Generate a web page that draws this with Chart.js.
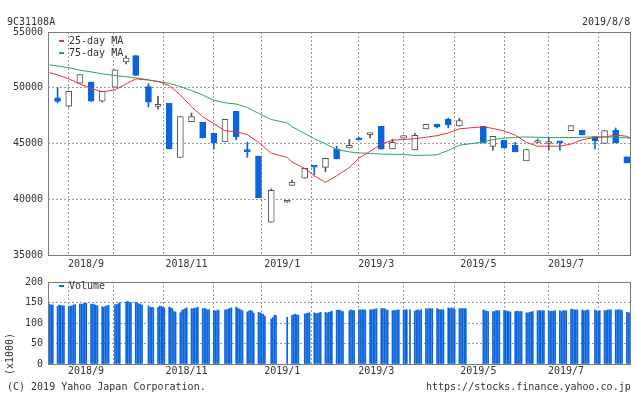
<!DOCTYPE html>
<html>
<head>
<meta charset="utf-8">
<script src="https://cdn.jsdelivr.net/npm/chart.js@4.4.1/dist/chart.umd.min.js"></script>
<style>
  body { margin: 0; background: #fff; }
  #wrap { position: relative; width: 634px; height: 394px; overflow: hidden;
          font-family: "DejaVu Sans Mono", monospace; font-size: 10px; color: #333; }
  canvas { position: absolute; left: 0; }
  #price { top: 0; }
  #vol { top: 271px; }
  .t { position: absolute; white-space: pre; line-height: 12px; }
  .k { position: absolute; width: 5px; height: 2px; }
  #unit { left: -15px; top: 348px; width: 50px; text-align: center; transform: rotate(-90deg); }
</style>
</head>
<body>
<div id="wrap">
  <canvas id="price" width="634" height="272"></canvas>
  <canvas id="vol" width="634" height="123"></canvas>

  <div class="t" style="left:7px;top:16px">9C31108A</div>
  <div class="t" style="left:582px;top:16px">2019/8/8</div>

  <div class="k" style="left:59px;top:40px;background:#e8303a"></div>
  <div class="t" style="left:69px;top:35px">25-day MA</div>
  <div class="k" style="left:59px;top:52px;background:#25a763"></div>
  <div class="t" style="left:69px;top:47px">75-day MA</div>

  <div class="k" style="left:59px;top:285px;background:#0a64dc"></div>
  <div class="t" style="left:69px;top:280px">Volume</div>
  <div class="t" id="unit">(x1000)</div>

  <div class="t" style="left:7px;top:381px">(C) 2019 Yahoo Japan Corporation.</div>
  <div class="t" style="left:426px;top:381px">https://stocks.finance.yahoo.co.jp</div>
</div>

<script>
'use strict';

// ─── Data ─────────────────────────────────────────────────────────────────────

// weekly candles, dated by the first trading day of each week
const weekDates = [
  '2018-08-13', '2018-08-20', '2018-08-27', '2018-09-03', '2018-09-10',
  '2018-09-18', '2018-09-25', '2018-10-01', '2018-10-09', '2018-10-15',
  '2018-10-22', '2018-10-29', '2018-11-05', '2018-11-12', '2018-11-19',
  '2018-11-26', '2018-12-03', '2018-12-10', '2018-12-17', '2018-12-25',
  '2019-01-04', '2019-01-07', '2019-01-15', '2019-01-21', '2019-01-28',
  '2019-02-04', '2019-02-12', '2019-02-18', '2019-02-25', '2019-03-04',
  '2019-03-11', '2019-03-18', '2019-03-25', '2019-04-01', '2019-04-08',
  '2019-04-15', '2019-04-22', '2019-05-07', '2019-05-13', '2019-05-20',
  '2019-05-27', '2019-06-03', '2019-06-10', '2019-06-17', '2019-06-24',
  '2019-07-01', '2019-07-08', '2019-07-16', '2019-07-22', '2019-07-29',
  '2019-08-05',
];

const openPx = [
  49107, 48357, 50411, 50500, 48800, 50050, 52322, 52884, 50116, 48330,
  48598, 43749, 46964, 46901, 45919, 45142, 47884, 44350, 43865, 37945,
  39730, 41250, 41900, 42945, 42856, 44490, 44606, 45473, 45800, 46544,
  44517, 45472, 44428, 46303, 46723, 47169, 46571, 46544, 44731, 45294,
  44847, 43445, 45088, 44997, 45178, 46160, 46187, 45625, 45000, 46187,
  43802,
];
const highPx = [
  50000, 49670, 51188, 50500, 49670, 51600, 52857, 52884, 50357, 49223,
  48598, 47410, 47732, 46901, 45919, 47169, 47884, 45116, 43865, 40920,
  39760, 41722, 42767, 42945, 43660, 44758, 45357, 45563, 45919, 46544,
  45380, 45714, 45920, 46723, 46723, 47285, 47258, 46544, 45651, 45294,
  45116, 44463, 45410, 45535, 45178, 46606, 46187, 45625, 46160, 46392,
  43802,
];
const lowPx = [
  48640, 48270, 50411, 48777, 48710, 50050, 52143, 51098, 48268, 48089,
  44517, 43749, 46964, 45499, 44517, 45142, 45320, 43750, 40142, 37945,
  39730, 41250, 41900, 42170, 42463, 43624, 44606, 45321, 45499, 44490,
  44517, 45472, 44428, 46303, 46392, 46392, 46571, 45053, 44400, 44606,
  44250, 43445, 45088, 44400, 44400, 46160, 45767, 44517, 45000, 45053,
  43267,
];
const closePx = [
  48777, 49670, 51188, 48800, 49670, 51600, 52679, 51098, 48714, 48360,
  44517, 47410, 47410, 45499, 45053, 47169, 45589, 44270, 40142, 40802,
  39760, 41518, 42767, 42870, 43660, 43624, 44847, 45321, 45919, 44490,
  45116, 45714, 45740, 46723, 46482, 46660, 47053, 45053, 45651, 44606,
  44250, 44463, 45267, 45178, 45053, 46606, 45767, 45231, 46160, 45053,
  43267,
];

// moving averages sampled at the first day, each week and the last day
const maFirst = '2018-08-08';
const maLast = '2019-08-08';
const ma25 = [
  51350, 51150, 50800, 50330, 49950, 49640, 49800, 50350, 50800, 50690,
  50560, 50200, 49350, 48300, 47400, 46780, 46150, 46050, 45800, 45100,
  44130, 43750, 43330, 42760, 42100, 41520, 42100, 42850, 43700, 44300,
  44950, 45300, 45360, 45430, 45560, 45700, 45950, 46320, 46500, 46350,
  46120, 45760, 45100, 44760, 44758, 44758, 44950, 45330, 45540, 45580,
  45750, 45650, 45450,
];
const ma75 = [
  52050, 51950, 51800, 51580, 51420, 51250, 51100, 50980, 50890, 50700,
  50560, 50400, 50100, 49750, 49350, 48880, 48650, 48540, 48230, 47700,
  47150, 46850, 46500, 45900, 45430, 44970, 44450, 44250, 44150, 44110,
  44050, 44030, 44017, 43930, 43950, 43990, 44380, 44850, 45130, 45350,
  45480, 45540, 45589, 45560, 45535, 45535, 45535, 45560, 45589, 45589,
  45560, 45500, 45446,
];

// daily volume (x1000), one row per week
const volFirst = '2018-08-08';
const volLast = '2019-08-08';
const marketClosed = [
  '2018-09-17', '2018-09-24', '2018-10-08', '2018-11-23', '2018-12-24',
  '2018-12-31', '2019-01-01', '2019-01-02', '2019-01-03', '2019-01-14',
  '2019-02-11', '2019-03-21', '2019-04-29', '2019-04-30', '2019-05-01',
  '2019-05-02', '2019-05-03', '2019-05-06', '2019-07-15',
];
const volume = [
  146, 144, 144,
  141, 144, 143, 142, 142,
  140, 141, 142, 144, 145,
  146, 146, 147, 149, 148,
  146, 146, 145, 143, 142,
  140, 138, 141, 142, 143,
  145, 145, 147, 150,
  151, 153, 150, 150,
  151, 149, 147, 146, 144,
  142, 139, 138, 138,
  138, 141, 141, 138, 137,
  139, 137, 135, 128, 127,
  125, 130, 133, 135, 137,
  135, 135, 136, 137, 138,
  135, 135, 135, 132, 133,
  131, 129, 130, 132,
  132, 132, 134, 136, 137,
  139, 136, 134, 132, 130,
  127, 129, 131, 129, 124,
  126, 125, 123, 121, 117,
  110, 113, 119, 118,
  114,
  119, 120, 122, 120, 119,
  122, 123, 124, 125,
  125, 123, 123, 125, 126,
  126, 124, 126, 127, 129,
  131, 132, 131, 129, 128,
  130, 132, 131, 130,
  132, 132, 132, 132, 132,
  132, 132, 133, 134, 135,
  135, 136, 135, 133, 131,
  130, 131, 130, 132, 132,
  132, 132, 132, 132,
  129, 131, 132, 130, 133,
  135, 134, 135, 135, 135,
  135, 133, 132, 132, 132,
  137, 135, 137, 136, 134,
  135, 135, 135, 135, 135,
  132, 130, 129, 128,
  128, 128, 130, 130, 130,
  130, 130, 129, 128, 127,
  128, 129, 128, 128, 128,
  125, 124, 126, 127, 128,
  130, 130, 130, 130, 130,
  130, 128, 129, 129, 130,
  130, 128, 130, 130, 130,
  134, 133, 132, 132, 132,
  132, 130, 130, 132, 131,
  132, 130, 128, 130,
  130, 130, 132, 132, 132,
  132, 132, 132, 132, 130,
  126, 125, 125, 125,
];

// axes
const gridDates = [
  '2018-09-03', '2018-10-01', '2018-11-05', '2018-12-03', '2019-01-04', '2019-02-04',
  '2019-03-04', '2019-04-01', '2019-05-07', '2019-06-03', '2019-07-01', '2019-08-05',
];
const gridLabels = ['2018/9', '', '2018/11', '', '2019/1', '', '2019/3', '', '2019/5', '', '2019/7', ''];
const priceTicks = [35000, 40000, 45000, 50000, 55000];
const volumeTicks = [0, 50, 100, 150, 200];

// ─── Style ────────────────────────────────────────────────────────────────────

const BLUE  = '#0a64dc';
const RED   = '#e8303a';
const GREEN = '#25a763';
const CANDLE_LINE = '#555555';
const GRID  = '#999999';
const FRAME = '#7a7a7a';
const TEXT  = '#333333';
const FONT  = { family: 'DejaVu Sans Mono', size: 10 };

// ─── Helpers ──────────────────────────────────────────────────────────────────

const DAY = 864e5;
const ORIGIN = Date.UTC(2018, 7, 7);
const X_MAX = 365.6;

function dayNum(s) {
  const [y, m, d] = s.split('-').map(Number);
  return (Date.UTC(y, m - 1, d) - ORIGIN) / DAY;
}

function tradingDays(from, to, closed) {
  const out = [];
  for (let t = ORIGIN + dayNum(from) * DAY; t <= ORIGIN + dayNum(to) * DAY; t += DAY) {
    const d = new Date(t);
    const s = d.toISOString().slice(0, 10);
    const wd = d.getUTCDay();
    if (wd !== 0 && wd !== 6 && !closed.includes(s)) out.push(s);
  }
  return out;
}

const framePlugin = {
  id: 'frame',
  afterDraw(chart) {
    const { ctx, chartArea: a } = chart;
    const l = Math.round(a.left), t = Math.round(a.top);
    const r = Math.round(a.right), b = Math.round(a.bottom);
    ctx.save();
    ctx.strokeStyle = FRAME;
    ctx.lineWidth = 1;
    ctx.strokeRect(l + 0.5, t + 0.5, r - l - 1, b - t);
    ctx.restore();
  },
};

function xScale(height, pad) {
  return {
    type: 'linear',
    min: 0,
    max: X_MAX,
    offset: false,
    afterBuildTicks: (s) => { s.ticks = gridDates.map((d) => ({ value: dayNum(d) })); },
    afterFit: (s) => { s.height = height; },
    grid: { color: GRID, drawTicks: false },
    border: { display: false, dash: [2, 2] },
    ticks: {
      autoSkip: false, maxRotation: 0, padding: pad, labelOffset: -5,
      color: TEXT, font: FONT,
      callback: (v, i) => gridLabels[i],
    },
  };
}

function yScale(ticks) {
  const lo = ticks[0], hi = ticks[ticks.length - 1];
  return {
    min: lo,
    max: hi,
    afterBuildTicks: (s) => { s.ticks = ticks.map((v) => ({ value: v })); },
    afterFit: (s) => { s.width = 48; },
    grid: {
      drawTicks: false,
      color: (c) => (c.tick.value === lo || c.tick.value === hi ? 'rgba(0,0,0,0)' : GRID),
    },
    border: { display: false, dash: [2, 2] },
    ticks: { padding: 5, color: TEXT, font: FONT, callback: (v) => String(v) },
  };
}

const common = {
  responsive: false,
  animation: false,
  events: [],
  plugins: { legend: { display: false }, tooltip: { enabled: false } },
};

// ─── Price chart ──────────────────────────────────────────────────────────────

function buildPriceChart() {
  const xs = weekDates.map(dayNum);
  const up = openPx.map((o, i) => closePx[i] >= o);
  const maX = [dayNum(maFirst), ...xs, dayNum(maLast)];

  new Chart(document.getElementById('price'), {
    type: 'bar',
    data: {
      datasets: [
        {
          type: 'line', label: '25-day MA',
          data: ma25.map((v, i) => ({ x: maX[i], y: v })),
          borderColor: RED, borderWidth: 1, pointRadius: 0, tension: 0, order: 0,
        },
        {
          type: 'line', label: '75-day MA',
          data: ma75.map((v, i) => ({ x: maX[i], y: v })),
          borderColor: GREEN, borderWidth: 1, pointRadius: 0, tension: 0, order: 0,
        },
        {
          label: 'body',
          data: xs.map((x, i) => ({ x, y: [openPx[i], closePx[i]] })),
          backgroundColor: up.map((u) => (u ? '#ffffff' : BLUE)),
          borderColor: up.map((u) => (u ? CANDLE_LINE : BLUE)),
          borderWidth: 1, borderSkipped: false, barThickness: 6,
          minBarLength: 2, grouped: false, order: 1,
        },
        {
          label: 'wick',
          data: xs.map((x, i) => ({ x, y: [lowPx[i], highPx[i]] })),
          backgroundColor: up.map((u) => (u ? CANDLE_LINE : BLUE)),
          barThickness: 1, minBarLength: 1, grouped: false, order: 2,
        },
      ],
    },
    options: {
      ...common,
      layout: { padding: { top: 32, right: 3, left: 0, bottom: 0 } },
      scales: { x: xScale(17, 3), y: yScale(priceTicks) },
    },
    plugins: [framePlugin],
  });
}

// ─── Volume chart ─────────────────────────────────────────────────────────────

function buildVolumeChart() {
  const days = tradingDays(volFirst, volLast, marketClosed);

  new Chart(document.getElementById('vol'), {
    type: 'bar',
    data: {
      datasets: [{
        label: 'Volume',
        data: days.map((d, i) => ({ x: dayNum(d), y: volume[i] })),
        backgroundColor: BLUE,
        barThickness: 1,
        grouped: false,
      }],
    },
    options: {
      ...common,
      layout: { padding: { top: 6, right: 3, left: 0, bottom: 13 } },
      scales: { x: xScale(17, 1), y: yScale(volumeTicks) },
    },
    plugins: [framePlugin],
  });
}

// ─── Init ─────────────────────────────────────────────────────────────────────

buildPriceChart();
buildVolumeChart();
</script>
</body>
</html>
